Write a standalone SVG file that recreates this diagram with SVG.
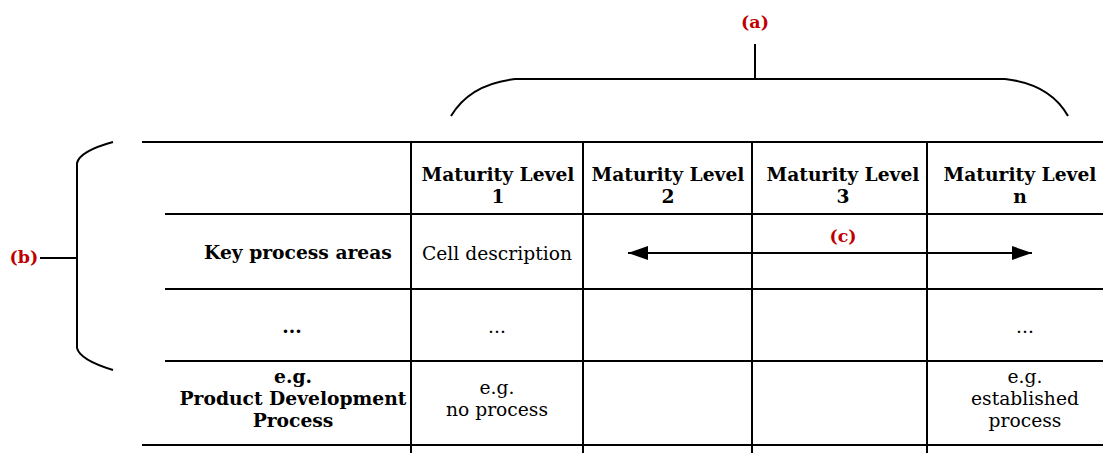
<svg xmlns="http://www.w3.org/2000/svg" width="1103" height="453" viewBox="0 0 1103 453">
  <style>
    .ln { stroke: #000; stroke-width: 2; fill: none; }
    .hd { font-family: "DejaVu Serif", "Liberation Serif", serif; font-weight: bold; font-size: 18.7px; fill: #000; text-anchor: middle; }
    .tx { font-family: "DejaVu Serif", "Liberation Serif", serif; font-size: 18.7px; fill: #000; text-anchor: middle; }
    .lb { font-family: "DejaVu Serif", "Liberation Serif", serif; font-weight: bold; font-size: 17.5px; fill: #c00000; text-anchor: middle; }
  </style>
  <defs>
    <marker id="ah" viewBox="0 0 20 14" refX="20" refY="7" markerWidth="20" markerHeight="14" markerUnits="userSpaceOnUse" orient="auto-start-reverse">
      <path d="M0,0 L20,7 L0,14 z" fill="#000"/>
    </marker>
  </defs>
  <rect width="1103" height="453" fill="#fff"/>

  <!-- table grid -->
  <g id="grid">
    <line class="ln" x1="142" y1="142" x2="1103" y2="142"/>
    <line class="ln" x1="165" y1="214" x2="1103" y2="214"/>
    <line class="ln" x1="165" y1="289" x2="1103" y2="289"/>
    <line class="ln" x1="165" y1="361" x2="1103" y2="361"/>
    <line class="ln" x1="142" y1="445" x2="1103" y2="445"/>
    <line class="ln" x1="411" y1="142" x2="411" y2="453"/>
    <line class="ln" x1="583" y1="142" x2="583" y2="453"/>
    <line class="ln" x1="752" y1="142" x2="752" y2="453"/>
    <line class="ln" x1="927" y1="142" x2="927" y2="453"/>
  </g>

  <!-- column headers -->
  <g id="header-1"><text class="hd" x="498" y="181">Maturity Level</text><text class="hd" x="498" y="203">1</text></g>
  <g id="header-2"><text class="hd" x="668" y="181">Maturity Level</text><text class="hd" x="668" y="203">2</text></g>
  <g id="header-3"><text class="hd" x="843" y="181">Maturity Level</text><text class="hd" x="843" y="203">3</text></g>
  <g id="header-n"><text class="hd" x="1020" y="181">Maturity Level</text><text class="hd" x="1020" y="203">n</text></g>

  <!-- row headers -->
  <g id="row-kpa"><text class="hd" x="298" y="259">Key process areas</text></g>
  <g id="row-dots"><text class="hd" x="292" y="333">...</text></g>
  <g id="row-pdp">
    <text class="hd" x="293" y="383">e.g.</text>
    <text class="hd" x="293" y="405">Product Development</text>
    <text class="hd" x="293" y="427">Process</text>
  </g>

  <!-- cells -->
  <g id="cell-desc"><text class="tx" x="497" y="260">Cell description</text></g>
  <g id="cell-dots-1"><text class="tx" x="497" y="333">...</text></g>
  <g id="cell-dots-n"><text class="tx" x="1025" y="333">...</text></g>
  <g id="cell-no-process">
    <text class="tx" x="497" y="394">e.g.</text>
    <text class="tx" x="497" y="416">no process</text>
  </g>
  <g id="cell-established">
    <text class="tx" x="1025" y="383">e.g.</text>
    <text class="tx" x="1025" y="405">established</text>
    <text class="tx" x="1025" y="427">process</text>
  </g>

  <!-- annotations -->
  <g id="connectors">
    <path class="ln" d="M451,116 Q470,84 515,79 L1005,79 Q1050,84 1068,116"/>
    <line class="ln" x1="755" y1="44" x2="755" y2="79"/>
    <path class="ln" d="M113,142 Q80,151 77,163 L77,348 Q80,360 113,370"/>
    <line class="ln" x1="40" y1="258" x2="77" y2="258"/>
    <line class="ln" x1="628" y1="253" x2="1032" y2="253" marker-start="url(#ah)" marker-end="url(#ah)"/>
  </g>
  <g id="label-a"><text class="lb" x="755" y="28">(a)</text></g>
  <g id="label-b"><text class="lb" x="24" y="263">(b)</text></g>
  <g id="label-c"><text class="lb" x="843" y="242">(c)</text></g>
</svg>
